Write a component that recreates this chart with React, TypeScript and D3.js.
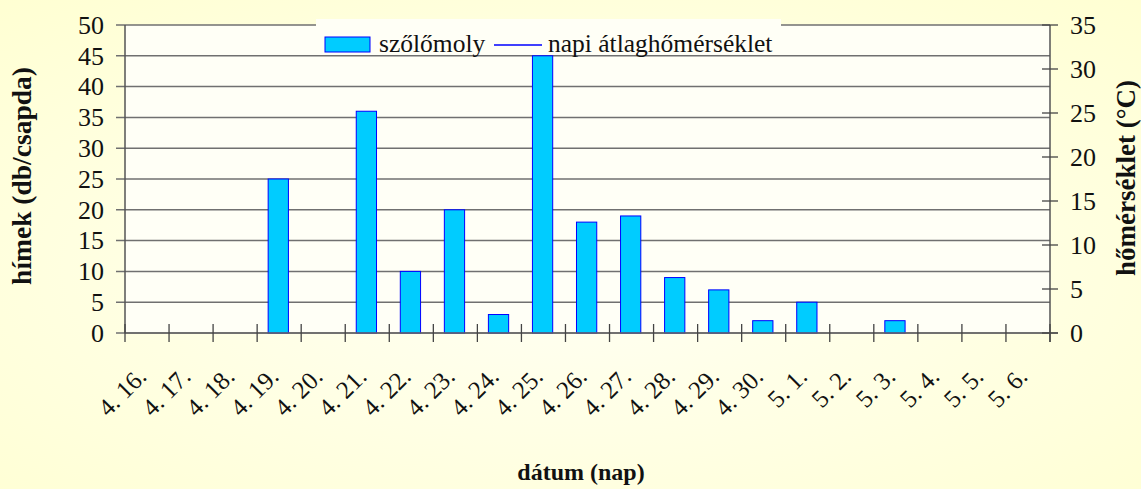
import React from 'react';
import * as d3 from 'd3';

const days: string[] = [
  '4. 16.', '4. 17.', '4. 18.', '4. 19.', '4. 20.', '4. 21.', '4. 22.', '4. 23.', '4. 24.', '4. 25.',
  '4. 26.', '4. 27.', '4. 28.', '4. 29.', '4. 30.', '5. 1.', '5. 2.', '5. 3.', '5. 4.', '5. 5.', '5. 6.',
];
// szőlőmoly catches (db/csapda)
const moths: number[] = [0, 0, 0, 25, 0, 36, 10, 20, 3, 45, 18, 19, 9, 7, 2, 5, 0, 2, 0, 0, 0];
const leftTicks: number[] = [0, 5, 10, 15, 20, 25, 30, 35, 40, 45, 50];
const rightTicks: number[] = [0, 5, 10, 15, 20, 25, 30, 35];
const seriesNames: string[] = ['szőlőmoly', 'napi átlaghőmérséklet'];

const W = 1141;
const H = 489;
const FONT = "'Liberation Serif', 'DejaVu Serif', serif";

function App() {
  const left = 125, right = 1050, top = 25, bottom = 333;

  const x = d3.scaleBand<string>().domain(days).range([left, right]).padding(0);
  const y = d3.scaleLinear().domain([0, 50]).range([bottom, top]);
  const y2 = d3.scaleLinear().domain([0, 35]).range([bottom, top]);
  const bw = x.bandwidth();

  const tickXs = days.map(d => x(d) as number).concat([right]);
  const txt = { fontFamily: FONT };

  return (
    <svg width={W} height={H} style={{ position: 'absolute', left: 0, top: 0, fontFamily: FONT }}>
      <defs>
        <radialGradient id="bg" cx="50%" cy="55%" r="75%">
          <stop offset="0%" stopColor="#FFFFF4" />
          <stop offset="100%" stopColor="#FFFFD2" />
        </radialGradient>
      </defs>
      <rect x={0} y={0} width={W} height={H} fill="url(#bg)" />
      <rect x={left} y={top} width={right - left} height={bottom - top} fill="#FFFFF6" />

      {/* gridlines */}
      {leftTicks.map(t => (
        <line key={'g' + t} x1={left - 9} x2={right} y1={y(t)} y2={y(t)} stroke="#707070" strokeWidth={1.5} />
      ))}

      {/* bars */}
      {moths.map((v, i) => v > 0 && (
        <rect key={'b' + i}
          x={(x(days[i]) as number) + bw * 0.25}
          y={y(v)}
          width={bw * 0.46}
          height={y(0) - y(v)}
          fill="#00CCFF" stroke="#0000FF" strokeWidth={1} />
      ))}

      {/* axes */}
      <line x1={left} x2={left} y1={top} y2={bottom} stroke="#555" strokeWidth={1.5} />
      <line x1={right} x2={right} y1={top} y2={bottom + 9} stroke="#555" strokeWidth={1.5} />
      <line x1={left} x2={right + 8} y1={bottom} y2={bottom} stroke="#666" strokeWidth={1.5} />
      {tickXs.map((tx, i) => (
        <line key={'xt' + i} x1={tx} x2={tx} y1={bottom - 9} y2={bottom + 9} stroke="#444" strokeWidth={1.3} />
      ))}
      {rightTicks.map(t => (
        <line key={'rt' + t} x1={right - 8} x2={right + 8} y1={y2(t)} y2={y2(t)} stroke="#444" strokeWidth={1.3} />
      ))}

      {/* tick labels */}
      {leftTicks.map(t => (
        <text key={'lt' + t} style={txt} x={104} y={y(t)} dy="0.34em" textAnchor="end" fontSize={26} fill="#111">{t}</text>
      ))}
      {rightTicks.map(t => (
        <text key={'rl' + t} style={txt} x={1070} y={y2(t)} dy="0.34em" textAnchor="start" fontSize={26} fill="#111">{t}</text>
      ))}
      {days.map(d => (
        <text key={'xl' + d} style={txt} textAnchor="end" fontSize={25} fill="#111"
          transform={`translate(${(x(d) as number) + bw / 2 + 1},378) rotate(-45)`}>{d}</text>
      ))}

      {/* axis titles */}
      <text style={txt} transform="translate(31,176) rotate(-90)" textAnchor="middle" fontSize={27.5} fontWeight="bold" fill="#111">hímek (db/csapda)</text>
      <text style={txt} transform="translate(1135,178) rotate(-90)" textAnchor="middle" fontSize={27} fontWeight="bold" fill="#111">hőmérséklet (°C)</text>
      <text style={txt} x={581} y={480} textAnchor="middle" fontSize={24} fontWeight="bold" fill="#111">dátum (nap)</text>

      {/* legend */}
      <g>
        <rect x={316} y={19} width={465} height={35} fill="#FFFFF6" />
        <rect x={325} y={37} width={45} height={15} fill="#00CCFF" stroke="#0000FF" strokeWidth={1} />
        <text style={txt} x={379} y={52} fontSize={25.5} fill="#111">{seriesNames[0]}</text>
        <line x1={494} x2={542} y1={45} y2={45} stroke="#0000FF" strokeWidth={1.5} />
        <text style={txt} x={548} y={52} fontSize={25.5} fill="#111">{seriesNames[1]}</text>
      </g>
    </svg>
  );
}

export default App;
